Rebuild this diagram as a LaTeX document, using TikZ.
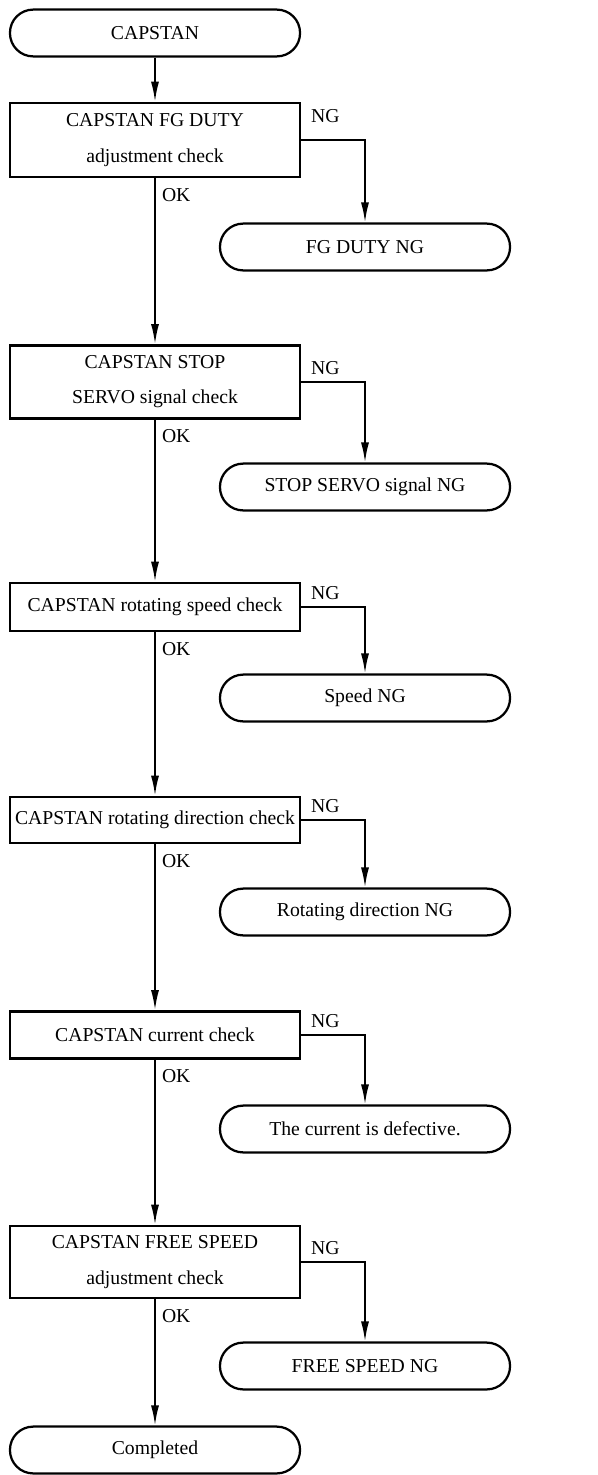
\documentclass[tikz,border=0pt]{standalone}
\usepackage{fontspec}
\setmainfont{Liberation Serif}
\usepackage{tikz}
\usetikzlibrary{arrows.meta,positioning,calc}
\tikzset{
    checkBox/.style={
        draw=black,
        line width=1.8pt,
        minimum width=7.25cm,
        align=center,
        inner sep=1pt,
        font=\fontsize{14}{25}\selectfont
    },
    termBox/.style={
        draw=black,
        line width=1.6pt,
        minimum width=7.25cm,
        minimum height=1.17cm,
        rounded corners=0.58cm,
        font=\fontsize{14}{16}\selectfont
    },
    arrowLine/.style={
        line width=1.3pt,
        -{Latex[length=0.5cm,width=0.2cm]}
    },
    ngLabel/.style={above right, xshift=3pt, yshift=1pt, font=\fontsize{14}{16}\selectfont},
    okLabel/.style={below right, xshift=1pt, yshift=-3pt, font=\fontsize{14}{16}\selectfont},
}

\begin{document}
\begin{tikzpicture}[x=0.025cm, y=-0.025cm]
    \useasboundingbox (0,0) rectangle (598,1475);

    % Main column - checks
    \node[termBox] (start) at (155,33) {CAPSTAN};
    \node[checkBox, minimum height=1.85cm] (fgduty) at (155,140) {CAPSTAN FG DUTY\\adjustment check};
    \node[checkBox, minimum height=1.83cm] (stopservo) at (155,382) {CAPSTAN STOP\\SERVO signal check};
    \node[checkBox, minimum height=1.2cm] (speed) at (155,607) {CAPSTAN rotating speed check};
    \node[checkBox, minimum height=1.15cm] (direction) at (155,820) {CAPSTAN rotating direction check};
    \node[checkBox, minimum height=1.18cm] (current) at (155,1035) {CAPSTAN current check};
    \node[checkBox, minimum height=1.8cm] (freespeed) at (155,1262) {CAPSTAN FREE SPEED\\adjustment check};
    \node[termBox] (done) at (155,1450) {Completed};

    % Right column - NG results
    \node[termBox] (fgdutyNG) at (365,247) {FG DUTY NG};
    \node[termBox] (stopservoNG) at (365,487) {STOP SERVO signal NG};
    \node[termBox] (speedNG) at (365,698) {Speed NG};
    \node[termBox] (directionNG) at (365,912) {Rotating direction NG};
    \node[termBox] (currentNG) at (365,1129) {The current is defective.};
    \node[termBox] (freespeedNG) at (365,1366) {FREE SPEED NG};

    % OK path
    \draw[arrowLine] (start) -- (fgduty);
    \draw[arrowLine] (fgduty.south) node[okLabel] {OK} -- (stopservo.north);
    \draw[arrowLine] (stopservo.south) node[okLabel] {OK} -- (speed.north);
    \draw[arrowLine] (speed.south) node[okLabel] {OK} -- (direction.north);
    \draw[arrowLine] (direction.south) node[okLabel] {OK} -- (current.north);
    \draw[arrowLine] (current.south) node[okLabel] {OK} -- (freespeed.north);
    \draw[arrowLine] (freespeed.south) node[okLabel] {OK} -- (done.north);

    % NG branches
    \draw[arrowLine] (fgduty.east) node[ngLabel, yshift=7pt] {NG} -| (fgdutyNG.north);
    \draw[arrowLine] (stopservo.east) node[ngLabel] {NG} -| (stopservoNG.north);
    \draw[arrowLine] (speed.east) node[ngLabel] {NG} -| (speedNG.north);
    \draw[arrowLine] (direction.east) node[ngLabel] {NG} -| (directionNG.north);
    \draw[arrowLine] (current.east) node[ngLabel] {NG} -| (currentNG.north);
    \draw[arrowLine] (freespeed.east) node[ngLabel] {NG} -| (freespeedNG.north);

\end{tikzpicture}
\end{document}
